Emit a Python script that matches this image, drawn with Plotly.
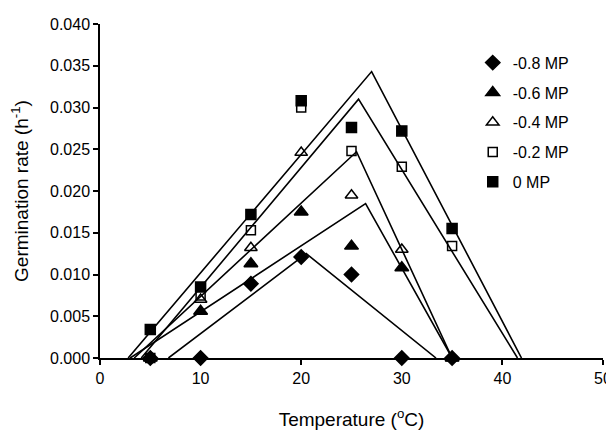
import plotly.graph_objects as go

# measured germination rates (h-1) at each temperature
temps = [5, 10, 15, 20, 25, 30, 35]
rate_m08 = [0.0, 0.0, 0.0089, 0.0121, 0.0100, 0.0, 0.0]
rate_m06 = [0.0, 0.0056, 0.0113, 0.0175, 0.0134, 0.0108, 0.0]
rate_m04 = [0.0, 0.0070, 0.0132, 0.0246, 0.0195, 0.0130, 0.0]
rate_m02 = [0.0, 0.0075, 0.0153, 0.0300, 0.0248, 0.0229, 0.0134]
rate_0 = [0.0034, 0.0085, 0.0172, 0.0308, 0.0276, 0.0272, 0.0155]

# fitted thermal-time model: base, optimum, ceiling temperature and peak rate
fit_m08_x = [6.8, 20.5, 33.4]
fit_m08_y = [0.0, 0.0125, 0.0]
fit_m06_x = [3.0, 26.4, 35.0]
fit_m06_y = [0.0, 0.0185, 0.0]
fit_m04_x = [3.4, 25.5, 35.0]
fit_m04_y = [0.0, 0.0247, 0.0]
fit_m02_x = [4.1, 25.7, 41.5]
fit_m02_y = [0.0, 0.0310, 0.0]
fit_0_x = [2.8, 27.0, 41.9]
fit_0_y = [0.0, 0.0343, 0.0]

series = [
    ("-0.8 MP", rate_m08, "diamond", 11),
    ("-0.6 MP", rate_m06, "triangle-up", 12),
    ("-0.4 MP", rate_m04, "triangle-up-open", 11),
    ("-0.2 MP", rate_m02, "square-open", 9),
    ("0 MP", rate_0, "square", 10),
]
fits = [(fit_m08_x, fit_m08_y), (fit_m06_x, fit_m06_y), (fit_m04_x, fit_m04_y),
        (fit_m02_x, fit_m02_y), (fit_0_x, fit_0_y)]

fig = go.Figure()

for fx, fy in fits:
    fig.add_trace(go.Scatter(x=fx, y=fy, mode="lines", showlegend=False,
                             line=dict(color="black", width=1.6),
                             hoverinfo="skip", cliponaxis=False))

for name, vals, sym, sz in series:
    fig.add_trace(go.Scatter(x=temps, y=vals, mode="markers", name=name,
                             legendgroup=name,
                             marker=dict(symbol=sym, size=sz, color="black",
                                         line=dict(color="black", width=1.5)),
                             cliponaxis=False))

# the page adds ~8px of body margin, so the figure is a bit smaller than the window
fig.update_layout(
    width=606, height=422,
    margin=dict(l=92, r=11, t=16, b=72),
    paper_bgcolor="white", plot_bgcolor="white",
    font=dict(family="Liberation Sans, Arial", size=16, color="black"),
    legend=dict(x=0.741, y=0.935, xanchor="left", yanchor="top",
                bgcolor="rgba(0,0,0,0)", font=dict(size=16),
                traceorder="grouped", tracegroupgap=6,
                itemwidth=30),
)
fig.update_xaxes(range=[0, 50], tickvals=[0, 10, 20, 30, 40, 50],
                 showline=True, linecolor="black", linewidth=1.5,
                 ticks="outside", ticklen=5, tickcolor="black", tickwidth=1.5,
                 showgrid=False, zeroline=False, automargin=False,
                 title=dict(text="Temperature (<sup>o</sup>C)", standoff=28))
fig.update_yaxes(range=[0, 0.040], dtick=0.005, tickformat=".3f",
                 showline=True, linecolor="black", linewidth=1.5,
                 ticks="outside", ticklen=5, tickcolor="black", tickwidth=1.5,
                 showgrid=False, zeroline=False, automargin=False,
                 title=dict(text="Germination rate (h<sup>-1</sup>)", standoff=18))

fig.write_html("out.html")
